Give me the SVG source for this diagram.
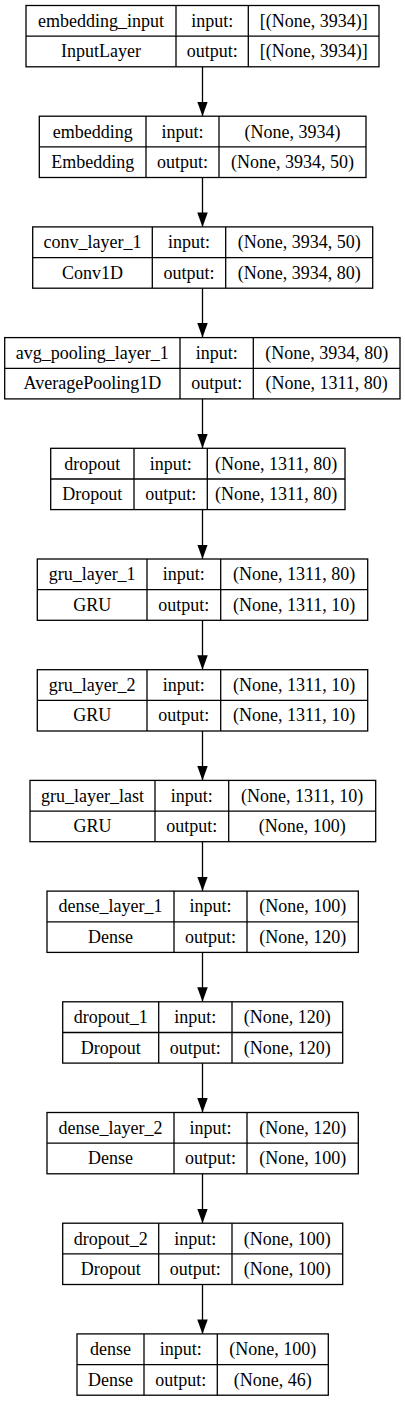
<svg xmlns="http://www.w3.org/2000/svg" width="405" height="1401" viewBox="0 0 405 1401">
<style>
.b{fill:#fff;stroke:#000;stroke-width:1.3}
.d{stroke:#000;stroke-width:1.3}
text{font-family:"Liberation Serif","Times New Roman",serif;font-size:18px;fill:#000;text-anchor:middle}
.e{stroke:#000;stroke-width:1.3;fill:none;marker-end:url(#ah)}
</style>
<defs>
<marker id="ah" markerUnits="userSpaceOnUse" markerWidth="15" markerHeight="11" refX="14.5" refY="5.25" orient="auto"><path d="M0,0 L14.5,5.25 L0,10.5 Z" fill="#000"/></marker>
</defs>
<rect width="405" height="1401" fill="#fff"/>
<g id="connectors">
<line class="e" x1="202.5" y1="66.8" x2="202.5" y2="116.2"/>
<line class="e" x1="202.5" y1="177.5" x2="202.5" y2="226.9"/>
<line class="e" x1="202.5" y1="288.2" x2="202.5" y2="337.6"/>
<line class="e" x1="202.5" y1="398.9" x2="202.5" y2="448.3"/>
<line class="e" x1="202.5" y1="509.6" x2="202.5" y2="559"/>
<line class="e" x1="202.5" y1="620.3" x2="202.5" y2="669.7"/>
<line class="e" x1="202.5" y1="731" x2="202.5" y2="780.4"/>
<line class="e" x1="202.5" y1="841.7" x2="202.5" y2="891.1"/>
<line class="e" x1="202.5" y1="952.4" x2="202.5" y2="1001.8"/>
<line class="e" x1="202.5" y1="1063.1" x2="202.5" y2="1112.5"/>
<line class="e" x1="202.5" y1="1173.8" x2="202.5" y2="1223.2"/>
<line class="e" x1="202.5" y1="1284.5" x2="202.5" y2="1333.9"/>
</g>
<g id="n1" transform="translate(0,5.5)">
<rect class="b" x="26" y="0" width="353" height="61.3"/>
<line class="d" x1="26" y1="30.7" x2="379" y2="30.7"/><line class="d" x1="176" y1="0" x2="176" y2="61.3"/><line class="d" x1="248.3" y1="0" x2="248.3" y2="61.3"/>
<text x="101" y="21.4">embedding_input</text><text x="212.15" y="21.4">input:</text><text x="313.65" y="21.4">[(None, 3934)]</text>
<text x="101" y="51.8">InputLayer</text><text x="212.15" y="51.8">output:</text><text x="313.65" y="51.8">[(None, 3934)]</text>
</g>
<g id="n2" transform="translate(0,116.2)">
<rect class="b" x="39.3" y="0" width="326.7" height="61.3"/>
<line class="d" x1="39.3" y1="30.7" x2="366" y2="30.7"/><line class="d" x1="146" y1="0" x2="146" y2="61.3"/><line class="d" x1="219" y1="0" x2="219" y2="61.3"/>
<text x="92.65" y="21.4">embedding</text><text x="182.5" y="21.4">input:</text><text x="292.5" y="21.4">(None, 3934)</text>
<text x="92.65" y="51.8">Embedding</text><text x="182.5" y="51.8">output:</text><text x="292.5" y="51.8">(None, 3934, 50)</text>
</g>
<g id="n3" transform="translate(0,226.9)">
<rect class="b" x="32.7" y="0" width="340" height="61.3"/>
<line class="d" x1="32.7" y1="30.7" x2="372.7" y2="30.7"/><line class="d" x1="152.3" y1="0" x2="152.3" y2="61.3"/><line class="d" x1="225.7" y1="0" x2="225.7" y2="61.3"/>
<text x="92.5" y="21.4">conv_layer_1</text><text x="189" y="21.4">input:</text><text x="299.2" y="21.4">(None, 3934, 50)</text>
<text x="92.5" y="51.8">Conv1D</text><text x="189" y="51.8">output:</text><text x="299.2" y="51.8">(None, 3934, 80)</text>
</g>
<g id="n4" transform="translate(0,337.6)">
<rect class="b" x="4.7" y="0" width="395.3" height="61.3"/>
<line class="d" x1="4.7" y1="30.7" x2="400" y2="30.7"/><line class="d" x1="180" y1="0" x2="180" y2="61.3"/><line class="d" x1="253.3" y1="0" x2="253.3" y2="61.3"/>
<text x="92.35" y="21.4">avg_pooling_layer_1</text><text x="216.65" y="21.4">input:</text><text x="326.65" y="21.4">(None, 3934, 80)</text>
<text x="92.35" y="51.8">AveragePooling1D</text><text x="216.65" y="51.8">output:</text><text x="326.65" y="51.8">(None, 1311, 80)</text>
</g>
<g id="n5" transform="translate(0,448.3)">
<rect class="b" x="50.7" y="0" width="294.3" height="61.3"/>
<line class="d" x1="50.7" y1="30.7" x2="345" y2="30.7"/><line class="d" x1="134" y1="0" x2="134" y2="61.3"/><line class="d" x1="207.3" y1="0" x2="207.3" y2="61.3"/>
<text x="92.35" y="21.4">dropout</text><text x="170.65" y="21.4">input:</text><text x="276.15" y="21.4">(None, 1311, 80)</text>
<text x="92.35" y="51.8">Dropout</text><text x="170.65" y="51.8">output:</text><text x="276.15" y="51.8">(None, 1311, 80)</text>
</g>
<g id="n6" transform="translate(0,559)">
<rect class="b" x="37.3" y="0" width="330.4" height="61.3"/>
<line class="d" x1="37.3" y1="30.7" x2="367.7" y2="30.7"/><line class="d" x1="147" y1="0" x2="147" y2="61.3"/><line class="d" x1="220.7" y1="0" x2="220.7" y2="61.3"/>
<text x="92.15" y="21.4">gru_layer_1</text><text x="183.85" y="21.4">input:</text><text x="294.2" y="21.4">(None, 1311, 80)</text>
<text x="92.15" y="51.8">GRU</text><text x="183.85" y="51.8">output:</text><text x="294.2" y="51.8">(None, 1311, 10)</text>
</g>
<g id="n7" transform="translate(0,669.7)">
<rect class="b" x="37.3" y="0" width="330.4" height="61.3"/>
<line class="d" x1="37.3" y1="30.7" x2="367.7" y2="30.7"/><line class="d" x1="147" y1="0" x2="147" y2="61.3"/><line class="d" x1="220.7" y1="0" x2="220.7" y2="61.3"/>
<text x="92.15" y="21.4">gru_layer_2</text><text x="183.85" y="21.4">input:</text><text x="294.2" y="21.4">(None, 1311, 10)</text>
<text x="92.15" y="51.8">GRU</text><text x="183.85" y="51.8">output:</text><text x="294.2" y="51.8">(None, 1311, 10)</text>
</g>
<g id="n8" transform="translate(0,780.4)">
<rect class="b" x="30" y="0" width="345.7" height="61.3"/>
<line class="d" x1="30" y1="30.7" x2="375.7" y2="30.7"/><line class="d" x1="155" y1="0" x2="155" y2="61.3"/><line class="d" x1="228.7" y1="0" x2="228.7" y2="61.3"/>
<text x="92.5" y="21.4">gru_layer_last</text><text x="191.85" y="21.4">input:</text><text x="302.2" y="21.4">(None, 1311, 10)</text>
<text x="92.5" y="51.8">GRU</text><text x="191.85" y="51.8">output:</text><text x="302.2" y="51.8">(None, 100)</text>
</g>
<g id="n9" transform="translate(0,891.1)">
<rect class="b" x="47" y="0" width="311.3" height="61.3"/>
<line class="d" x1="47" y1="30.7" x2="358.3" y2="30.7"/><line class="d" x1="174" y1="0" x2="174" y2="61.3"/><line class="d" x1="247" y1="0" x2="247" y2="61.3"/>
<text x="110.5" y="21.4">dense_layer_1</text><text x="210.5" y="21.4">input:</text><text x="302.65" y="21.4">(None, 100)</text>
<text x="110.5" y="51.8">Dense</text><text x="210.5" y="51.8">output:</text><text x="302.65" y="51.8">(None, 120)</text>
</g>
<g id="n10" transform="translate(0,1001.8)">
<rect class="b" x="62.7" y="0" width="280" height="61.3"/>
<line class="d" x1="62.7" y1="30.7" x2="342.7" y2="30.7"/><line class="d" x1="158.7" y1="0" x2="158.7" y2="61.3"/><line class="d" x1="232" y1="0" x2="232" y2="61.3"/>
<text x="110.7" y="21.4">dropout_1</text><text x="195.35" y="21.4">input:</text><text x="287.35" y="21.4">(None, 120)</text>
<text x="110.7" y="51.8">Dropout</text><text x="195.35" y="51.8">output:</text><text x="287.35" y="51.8">(None, 120)</text>
</g>
<g id="n11" transform="translate(0,1112.5)">
<rect class="b" x="47" y="0" width="311.3" height="61.3"/>
<line class="d" x1="47" y1="30.7" x2="358.3" y2="30.7"/><line class="d" x1="174" y1="0" x2="174" y2="61.3"/><line class="d" x1="247" y1="0" x2="247" y2="61.3"/>
<text x="110.5" y="21.4">dense_layer_2</text><text x="210.5" y="21.4">input:</text><text x="302.65" y="21.4">(None, 120)</text>
<text x="110.5" y="51.8">Dense</text><text x="210.5" y="51.8">output:</text><text x="302.65" y="51.8">(None, 100)</text>
</g>
<g id="n12" transform="translate(0,1223.2)">
<rect class="b" x="62.7" y="0" width="280" height="61.3"/>
<line class="d" x1="62.7" y1="30.7" x2="342.7" y2="30.7"/><line class="d" x1="158.7" y1="0" x2="158.7" y2="61.3"/><line class="d" x1="232" y1="0" x2="232" y2="61.3"/>
<text x="110.7" y="21.4">dropout_2</text><text x="195.35" y="21.4">input:</text><text x="287.35" y="21.4">(None, 100)</text>
<text x="110.7" y="51.8">Dropout</text><text x="195.35" y="51.8">output:</text><text x="287.35" y="51.8">(None, 100)</text>
</g>
<g id="n13" transform="translate(0,1333.9)">
<rect class="b" x="77" y="0" width="251.3" height="61.3"/>
<line class="d" x1="77" y1="30.7" x2="328.3" y2="30.7"/><line class="d" x1="144" y1="0" x2="144" y2="61.3"/><line class="d" x1="217.3" y1="0" x2="217.3" y2="61.3"/>
<text x="110.5" y="21.4">dense</text><text x="180.65" y="21.4">input:</text><text x="272.8" y="21.4">(None, 100)</text>
<text x="110.5" y="51.8">Dense</text><text x="180.65" y="51.8">output:</text><text x="272.8" y="51.8">(None, 46)</text>
</g>
</svg>
